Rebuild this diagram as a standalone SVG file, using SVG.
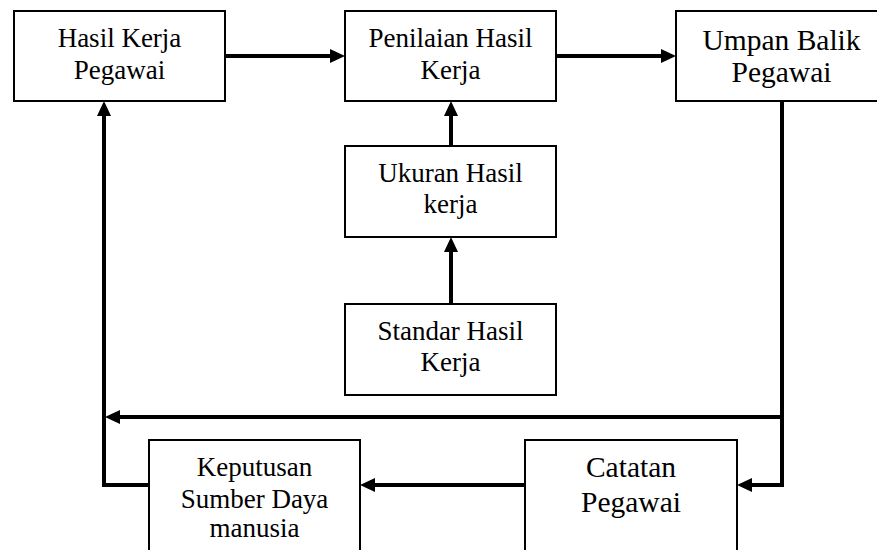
<svg xmlns="http://www.w3.org/2000/svg" width="877" height="550" viewBox="0 0 877 550">
<style>
.box{fill:#fff;stroke:#000;stroke-width:2}
.c{fill:none;stroke:#000;stroke-width:4;stroke-linejoin:miter}
.t{font-family:"Liberation Serif","Times New Roman",serif;font-size:27px;fill:#000;text-anchor:middle}
.tb{font-size:29.5px}
</style>
<defs>
<marker id="ah" markerUnits="userSpaceOnUse" markerWidth="15" markerHeight="14" refX="5" refY="7" orient="auto" viewBox="0 0 15 14">
<path d="M0,0 L15,7 L0,14 z" fill="#000"/>
</marker>
</defs>
<rect width="877" height="550" fill="#fff"/>
<g id="connectors">
<path class="c" d="M225,56 H335" marker-end="url(#ah)"/>
<path class="c" d="M556,56 H666" marker-end="url(#ah)"/>
<path class="c" d="M451,146 V111" marker-end="url(#ah)"/>
<path class="c" d="M451,304 V247" marker-end="url(#ah)"/>
<path class="c" d="M782,101 V485 H747" marker-end="url(#ah)"/>
<path class="c" d="M782,417 H115" marker-end="url(#ah)"/>
<path class="c" d="M525,485 H370" marker-end="url(#ah)"/>
<path class="c" d="M149,485 H104 V111" marker-end="url(#ah)"/>
</g>
<g id="hasil">
<rect class="box" x="14" y="11" width="211" height="90"/>
<text class="t" x="119.5" y="47">Hasil Kerja</text>
<text class="t" x="119.5" y="79">Pegawai</text>
</g>
<g id="penilaian">
<rect class="box" x="345" y="11" width="211" height="90"/>
<text class="t" x="450.5" y="47">Penilaian Hasil</text>
<text class="t" x="450.5" y="79">Kerja</text>
</g>
<g id="umpan">
<rect class="box" x="676" y="11" width="211" height="90"/>
<text class="t tb" x="781.5" y="50">Umpan Balik</text>
<text class="t tb" x="781.5" y="82">Pegawai</text>
</g>
<g id="ukuran">
<rect class="box" x="345" y="146" width="211" height="91"/>
<text class="t" x="450.5" y="182">Ukuran Hasil</text>
<text class="t" x="450.5" y="213">kerja</text>
</g>
<g id="standar">
<rect class="box" x="345" y="304" width="211" height="91"/>
<text class="t" x="450.5" y="340">Standar Hasil</text>
<text class="t" x="450.5" y="371">Kerja</text>
</g>
<g id="keputusan">
<rect class="box" x="149" y="440" width="211" height="120"/>
<text class="t" x="254.5" y="476">Keputusan</text>
<text class="t" x="254.5" y="508">Sumber Daya</text>
<text class="t" x="254.5" y="537">manusia</text>
</g>
<g id="catatan">
<rect class="box" x="525" y="440" width="212" height="120"/>
<text class="t tb" x="631" y="477">Catatan</text>
<text class="t tb" x="631" y="512">Pegawai</text>
</g>
</svg>
